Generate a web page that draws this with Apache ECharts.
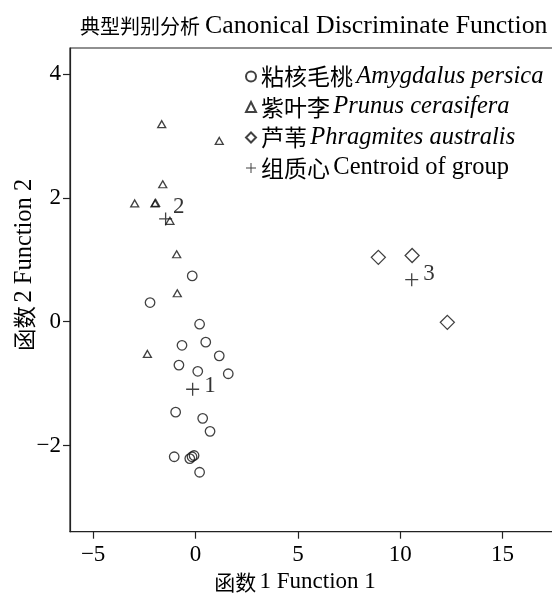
<!DOCTYPE html>
<html><head><meta charset="utf-8">
<script src="https://cdn.jsdelivr.net/npm/echarts@6/dist/echarts.min.js"></script>
<style>html,body{margin:0;padding:0;background:#fff}#c{width:552px;height:595px}</style>
</head><body><div id="c"></div>
<script>
// ---- data ----
const titleText = '典型判别分析 Canonical Discriminate Function';
const xName = '函数 1 Function 1';
const yName = '函数 2 Function 2';
const seriesNames = ['粘核毛桃 Amygdalus persica', '紫叶李 Prunus cerasifera', '芦苇 Phragmites australis', '组质心 Centroid of group'];
const amygdalus = [
  [-0.16, 0.74], [-2.22, 0.31], [0.20, -0.04], [-0.66, -0.38], [0.50, -0.33],
  [1.16, -0.55], [-0.81, -0.70], [0.11, -0.80], [1.60, -0.84], [-0.97, -1.46],
  [0.35, -1.56], [0.71, -1.77], [-1.04, -2.18], [-0.28, -2.21], [-0.17, -2.18],
  [-0.07, -2.16], [0.20, -2.43]
];
const prunus = [
  [-1.65, 3.19], [1.16, 2.92], [-1.60, 2.22], [-2.97, 1.91], [-1.98, 1.91],
  [-1.95, 1.92], [-1.25, 1.63], [-0.92, 1.09], [-0.89, 0.46], [-2.35, -0.52]
];
const phragmites = [[8.93, 1.04], [10.58, 1.07], [12.30, -0.01]];
const centroids = [[-0.14, -1.09], [-1.46, 1.66], [10.56, 0.68]];
const centroidLabels = ['1', '2', '3'];
const xTicks = [-5, 0, 5, 10, 15];
const yTicks = [-2, 0, 2, 4];

// ---- style ----
const SERIF = '"Liberation Serif","Times New Roman",serif';
const CJK = '"Noto Sans CJK SC","Noto Sans CJK JP",sans-serif';
const labelOffsets = [[0, -3], [-4, -12], [0, -6]];
const plus = 'path://M45,0H55V45H100V55H55V100H45V55H0V45H45Z';
const hollow = { color: 'rgba(0,0,0,0)', borderColor: '#111', borderWidth: 1.3 };
const minus = v => String(v).replace('-', '\u2212');
const split = s => { const i = s.indexOf(' '); return [s.slice(0, i), s.slice(i + 1)]; };

const chart = echarts.init(document.getElementById('c'), null, { renderer: 'canvas' });
const [tcn, ten] = split(titleText);
const [xcn, xen] = split(xName);
const [ycn, yen] = split(yName);

chart.setOption({
  backgroundColor: '#fff',
  animation: false,
  title: {
    text: `{cn|${tcn}} {en|${ten}}`,
    left: 75, top: 8,
    textStyle: { fontWeight: 'normal', rich: { cn: { fontFamily: CJK, fontSize: 20, fontWeight: 'normal', color: '#000' }, en: { fontFamily: SERIF, fontSize: 25.8, fontWeight: 'normal', color: '#000' } } }
  },
  grid: { left: 70, top: 48, right: -10, bottom: 63.3, outerBoundsMode: 'none', containLabel: false, show: true, borderColor: '#222', borderWidth: 1.2, backgroundColor: '#fff' },
  legend: {
    orient: 'vertical', left: 240, top: 62, itemGap: 5.5, itemWidth: 10, itemHeight: 10,
    backgroundColor: '#fff', padding: [2, 6, 2, 5],
    data: seriesNames,
    formatter: name => { const [c, e] = split(name); return `{cn|${c}} {${name === seriesNames[3] ? 'en' : 'it'}|${e}}`; },
    textStyle: { rich: { cn: { fontFamily: CJK, fontSize: 23, color: '#000' }, en: { fontFamily: SERIF, fontSize: 24.5, color: '#000' }, it: { fontFamily: SERIF, fontSize: 24.5, fontStyle: 'italic', color: '#000' } } }
  },
  xAxis: {
    type: 'value', min: -6.13, max: 17.9,
    name: `{cn|${xcn}} {en|${xen}}`, nameLocation: 'middle', nameGap: 39, nameMoveOverlap: false,
    nameTextStyle: { padding: [0, 42, 0, 0], rich: { cn: { fontFamily: CJK, fontSize: 21, color: '#000' }, en: { fontFamily: SERIF, fontSize: 23, color: '#000' } } },
    splitLine: { show: false },
    axisLine: { show: true, onZero: false, lineStyle: { color: '#222', width: 1.2 } },
    axisTick: { show: true, customValues: xTicks, length: 7, lineStyle: { color: '#222', width: 1.2 } },
    axisLabel: { customValues: xTicks, formatter: minus, fontFamily: SERIF, fontSize: 23, color: '#000', margin: 12 }
  },
  yAxis: {
    type: 'value', min: -3.39, max: 4.42,
    name: `{cn|${ycn}} {en|${yen}}`, nameLocation: 'middle', nameGap: 33, nameMoveOverlap: false,
    nameTextStyle: { padding: [0, 0, 0, 50], rich: { cn: { fontFamily: CJK, fontSize: 22.5, color: '#000' }, en: { fontFamily: SERIF, fontSize: 24.5, color: '#000' } } },
    splitLine: { show: false },
    axisLine: { show: true, onZero: false, lineStyle: { color: '#222', width: 1.2 } },
    axisTick: { show: true, customValues: yTicks, length: 7, lineStyle: { color: '#222', width: 1.2 } },
    axisLabel: { customValues: yTicks, formatter: minus, fontFamily: SERIF, fontSize: 23, color: '#000', margin: 9 }
  },
  series: [
    { name: seriesNames[0], type: 'scatter', data: amygdalus, symbol: 'circle', symbolSize: 9.5, itemStyle: hollow },
    { name: seriesNames[1], type: 'scatter', data: prunus, symbol: 'triangle', symbolSize: [8, 7], itemStyle: hollow },
    { name: seriesNames[2], type: 'scatter', data: phragmites, symbol: 'diamond', symbolSize: 14, itemStyle: hollow },
    {
      name: seriesNames[3], type: 'scatter', symbol: plus, symbolSize: 13, itemStyle: { color: '#111' },
      data: centroids.map((c, i) => ({ value: c, label: { offset: labelOffsets[i] } })),
      label: { show: true, position: 'right', formatter: p => centroidLabels[p.dataIndex], fontFamily: SERIF, fontSize: 23, color: '#000' }
    }
  ]
});
</script></body></html>
